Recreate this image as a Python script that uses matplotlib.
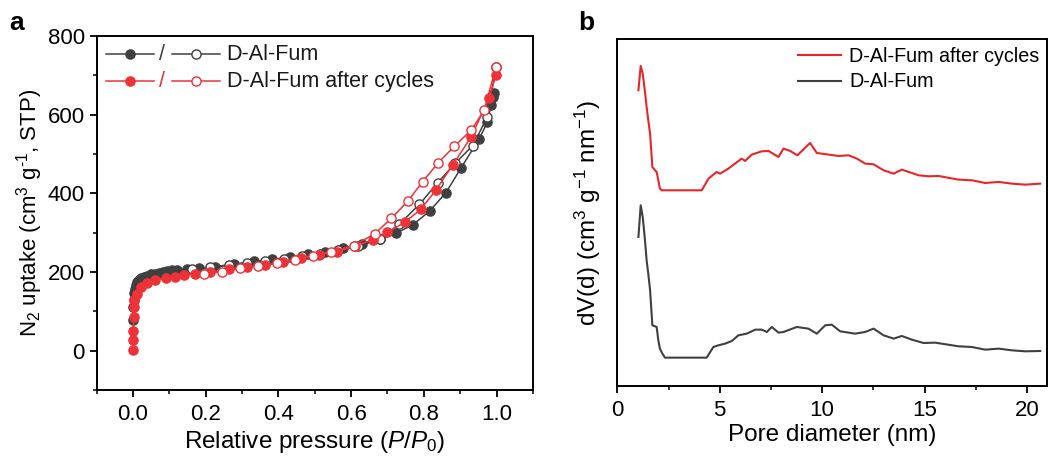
import matplotlib
matplotlib.use("Agg")
import matplotlib.pyplot as plt
from matplotlib.ticker import MultipleLocator

plt.rcParams["font.family"] = ["Liberation Sans", "DejaVu Sans"]
plt.rcParams["mathtext.fontset"] = "custom"
plt.rcParams["mathtext.rm"] = "Liberation Sans"
plt.rcParams["mathtext.it"] = "Liberation Sans:italic"
plt.rcParams["mathtext.bf"] = "Liberation Sans:bold"

# ---------------- N2 isotherms (panel a) ----------------
p_ads_pristine = [0.001, 0.001, 0.002, 0.003, 0.005, 0.008, 0.012, 0.017, 0.023, 0.030,
                  0.040, 0.050, 0.060, 0.071, 0.083, 0.094, 0.107, 0.120, 0.150, 0.181,
                  0.227, 0.277, 0.332, 0.382, 0.432, 0.482, 0.528, 0.578, 0.630, 0.680,
                  0.724, 0.770, 0.816, 0.861, 0.902, 0.952, 0.975, 0.985, 0.989, 0.994]
q_ads_pristine = [77, 111, 130, 146, 158, 167, 174, 180, 184, 188,
                  191, 194, 196, 198, 200, 202, 204, 206, 208, 210,
                  214, 220, 227, 232, 238, 246, 252, 261, 271, 283,
                  299, 320, 355, 402, 464, 538, 581, 624, 645, 654]

p_des_pristine = [0.998, 0.975, 0.934, 0.886, 0.838, 0.788, 0.733, 0.679, 0.619, 0.565,
                  0.515, 0.465, 0.415, 0.364, 0.313, 0.263, 0.213, 0.163]
q_des_pristine = [720, 594, 521, 476, 427, 372, 322, 284, 265, 255,
                  247, 240, 232, 227, 222, 217, 212, 208]

p_ads_cycled = [0.001, 0.001, 0.001, 0.002, 0.002, 0.004, 0.010, 0.021, 0.039, 0.062,
                0.090, 0.117, 0.140, 0.172, 0.213, 0.263, 0.313, 0.364, 0.412, 0.461,
                0.512, 0.560, 0.610, 0.659, 0.700, 0.747, 0.791, 0.834, 0.880, 0.930,
                0.980, 0.998]
q_ads_cycled = [3, 26, 51, 85, 111, 128, 145, 162, 172, 180,
                184, 188, 192, 195, 200, 207, 212, 218, 226, 235,
                244, 252, 265, 282, 301, 326, 359, 409, 473, 543,
                643, 700]

p_des_cycled = [0.998, 0.966, 0.930, 0.884, 0.838, 0.797, 0.756, 0.711, 0.665, 0.607,
                0.546, 0.496, 0.446, 0.396, 0.345, 0.295, 0.245, 0.195]
q_des_cycled = [720, 611, 560, 520, 476, 430, 380, 337, 297, 267,
                252, 241, 231, 222, 215, 209, 201, 195]

# ---------------- Pore size distributions (panel b) ----------------
d_cycled = [1.03, 1.14, 1.24, 1.35, 1.43, 1.51, 1.60, 1.71, 1.84, 1.92, 2.00, 2.08, 2.17,
            4.12, 4.45, 4.85, 5.02, 5.42, 6.07, 6.24, 6.56, 7.05, 7.38, 7.87, 8.11, 8.44,
            8.79, 9.41, 9.74, 10.80, 11.29, 11.70, 12.10, 12.51, 13.00, 13.49, 13.89,
            14.71, 15.20, 15.68, 16.66, 17.31, 17.96, 18.62, 19.27, 19.92, 20.65]
dv_cycled = [3.87, 4.60, 4.37, 3.82, 3.37, 2.97, 2.57, 1.57, 1.47, 1.42, 1.17, 0.92, 0.87,
             0.87, 1.22, 1.42, 1.37, 1.52, 1.82, 1.75, 1.94, 2.04, 2.05, 1.87, 2.12, 2.05,
             1.92, 2.29, 1.99, 1.90, 1.92, 1.82, 1.67, 1.65, 1.47, 1.37, 1.49,
             1.32, 1.29, 1.30, 1.19, 1.17, 1.09, 1.12, 1.07, 1.04, 1.07]

d_pristine = [1.03, 1.14, 1.24, 1.35, 1.43, 1.51, 1.60, 1.71, 1.84, 1.92, 2.00, 2.08, 2.20,
              2.33, 4.36, 4.69, 4.93, 5.26, 5.59, 5.91, 6.32, 6.73, 7.05, 7.30, 7.54, 7.87,
              8.11, 8.76, 9.33, 9.74, 10.15, 10.47, 10.88, 11.61, 12.10, 12.51, 13.00,
              13.49, 13.89, 14.38, 14.95, 15.52, 16.66, 17.31, 17.96, 18.62, 19.27, 19.92,
              20.65]
dv_pristine = [4.47, 5.42, 5.07, 4.37, 3.77, 3.37, 2.87, 1.82, 1.79, 1.77, 1.37, 1.12, 0.97,
               0.85, 0.85, 1.17, 1.22, 1.27, 1.35, 1.52, 1.57, 1.69, 1.69, 1.62, 1.77, 1.60,
               1.62, 1.77, 1.72, 1.57, 1.82, 1.84, 1.64, 1.57, 1.62, 1.72, 1.52,
               1.42, 1.50, 1.39, 1.29, 1.30, 1.19, 1.17, 1.09, 1.12, 1.07, 1.04,
               1.05]
cycled_offset = 5.0

label_pristine = "D-Al-Fum"
label_cycled = "D-Al-Fum after cycles"

GRAY = "#404040"
RED = "#ee3237"
RED_LINE = "#e8262a"

fig = plt.figure(figsize=(10.49, 4.66), dpi=100)
ax1 = fig.add_axes([0.0920, 0.1630, 0.4160, 0.7597])
ax2 = fig.add_axes([0.5885, 0.1717, 0.4100, 0.7440])

ms = 6.6
lw = 1.1

# panel a: adsorption (filled) and desorption (open) branches
ax1.plot(p_ads_pristine, q_ads_pristine, "-o", color=GRAY, ms=ms, lw=lw,
         mfc=GRAY, mec=GRAY, zorder=3)
ax1.plot(p_des_pristine, q_des_pristine, "-o", color=GRAY, ms=ms, lw=lw,
         mfc="white", mec=GRAY, mew=1.0, zorder=3)
ax1.plot(p_ads_cycled, q_ads_cycled, "-o", color=RED, ms=ms, lw=lw,
         mfc=RED, mec=RED, zorder=4)
ax1.plot(p_des_cycled, q_des_cycled, "-o", color=RED, ms=ms, lw=lw,
         mfc="white", mec=RED, mew=1.0, zorder=4)

ax1.set_xlim(-0.1, 1.1)
ax1.set_ylim(-100, 800)
ax1.xaxis.set_major_locator(MultipleLocator(0.2))
ax1.xaxis.set_minor_locator(MultipleLocator(0.1))
ax1.yaxis.set_major_locator(MultipleLocator(200))
ax1.yaxis.set_minor_locator(MultipleLocator(100))
ax1.set_xticks([0.0, 0.2, 0.4, 0.6, 0.8, 1.0])
ax1.set_xticklabels(["0.0", "0.2", "0.4", "0.6", "0.8", "1.0"])
ax1.set_xlabel(r"Relative pressure ($\it{P}$/$\it{P}_0$)", fontsize=17.5, labelpad=3)
ax1.set_ylabel(r"N$_2$ uptake (cm$^3$ g$^{\text{-}1}$, STP)", fontsize=16, labelpad=2)

# legend of panel a: filled / open symbol pairs
def legend_row(ax, y, color, text):
    tr = ax.transAxes
    ax.plot([0.021, 0.131], [y, y], color=color, lw=lw, transform=tr, clip_on=False)
    ax.plot([0.076], [y], "o", color=color, ms=ms, transform=tr, clip_on=False)
    ax.text(0.150, y, "/", color=color, fontsize=15.5, ha="center", va="center",
            transform=tr)
    ax.plot([0.172, 0.282], [y, y], color=color, lw=lw, transform=tr, clip_on=False)
    ax.plot([0.227], [y], "o", mfc="white", mec=color, mew=1.0, ms=ms,
            transform=tr, clip_on=False)
    ax.text(0.298, y, text, color="#1a1a1a", fontsize=15.5, ha="left", va="center",
            transform=tr)

legend_row(ax1, 0.948, GRAY, label_pristine)
legend_row(ax1, 0.872, RED, label_cycled)

# panel b: offset pore size distributions
dv_cycled_shifted = [v + cycled_offset for v in dv_cycled]
ax2.plot(d_cycled, dv_cycled_shifted, color=RED_LINE, lw=1.5, label=label_cycled)
ax2.plot(d_pristine, dv_pristine, color=GRAY, lw=1.5, label=label_pristine)
ax2.set_xlim(0, 21)
ax2.set_ylim(0, 10.4)
ax2.xaxis.set_major_locator(MultipleLocator(5))
ax2.xaxis.set_minor_locator(MultipleLocator(2.5))
ax2.set_yticks([])
ax2.set_xlabel("Pore diameter (nm)", fontsize=17.5, labelpad=2)
ax2.set_ylabel(r"dV(d) (cm$^3$ g$^{-1}$ nm$^{-1}$)", fontsize=17.5, labelpad=10)
ax2.legend(loc="upper right", frameon=False, fontsize=14.2, handlelength=2.2,
           handletextpad=0.4, labelspacing=0.32, borderaxespad=0.0)

for ax in (ax1, ax2):
    for s in ax.spines.values():
        s.set_linewidth(1.4)
    ax.tick_params(which="major", direction="out", length=5, width=1.3,
                   labelsize=16, colors="black")
    ax.tick_params(which="minor", direction="out", length=3, width=1.1)
    ax.tick_params(axis="x", pad=5)

fig.text(0.009, 0.950, "a", fontsize=19, fontweight="bold", va="center")
fig.text(0.551, 0.950, "b", fontsize=19, fontweight="bold", va="center")

fig.savefig("out.png", dpi=100)
